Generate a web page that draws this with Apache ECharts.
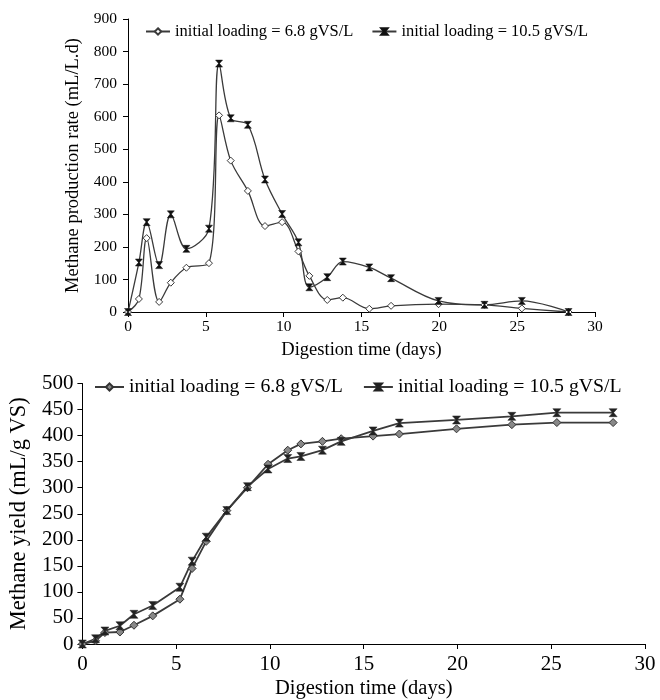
<!DOCTYPE html>
<html><head><meta charset="utf-8">
<script src="https://cdn.jsdelivr.net/npm/echarts@6/dist/echarts.min.js"></script>
<style>html,body{margin:0;padding:0;background:#fff}#c{width:660px;height:700px}</style>
</head><body><div id="c"></div>
<script>
var days = [0,0.7,1.2,2,2.75,3.75,5.2,5.85,6.6,7.7,8.8,9.9,10.95,11.65,12.8,13.8,15.5,16.9,19.95,22.9,25.3,28.3];
var rateLow = [0,40,227,31,90,136,150,604,465,372,264,276,186,111,37,44,10,19,24,22,11,0];
var rateHigh = [0,152,276,144,300,194,256,763,595,575,407,301,214,76,107,155,137,104,34,22,34,0];
var yieldLow = [0,6,22,23,36,54,86,145,197,256,300,345,372,384,389,394,399,403,413,421,425,425];
var yieldHigh = [0,10,25,35,57,74,109,159,205,256,302,336,356,360,372,389,409,424,430,437,444,444];
var xTicks = [0,5,10,15,20,25,30];
var nameLow = 'initial loading = 6.8 gVS/L';
var nameHigh = 'initial loading = 10.5 gVS/L';

function pairs(xs, ys){ return xs.map(function(x,i){ return [x, ys[i]]; }); }
var font = 'Liberation Serif';
var lineCol = '#3a3a3a';
var hourglass = 'path://M0,0L10,0L5.6,5L10,10L0,10L4.4,5Z';

function xAxis(gi, fs, nfs, gap, margin){
  return {type:'value', gridIndex:gi, min:xTicks[0], max:xTicks[xTicks.length-1], interval:xTicks[1]-xTicks[0],
    name:'Digestion time (days)', nameLocation:'middle', nameGap:gap,
    nameTextStyle:{fontFamily:font, fontSize:nfs, color:'#000'},
    axisLine:{lineStyle:{color:'#000', width:1}}, axisTick:{length:5, lineStyle:{color:'#000'}},
    axisLabel:{fontFamily:font, fontSize:fs, color:'#000', margin:margin},
    splitLine:{show:false}};
}
function yAxis(gi, max, iv, name, fs, nfs, gap, margin){
  return {type:'value', gridIndex:gi, min:0, max:max, interval:iv,
    name:name, nameLocation:'middle', nameGap:gap,
    nameTextStyle:{fontFamily:font, fontSize:nfs, color:'#000'},
    axisLine:{show:true, lineStyle:{color:'#000', width:1}}, axisTick:{show:true, length:5, lineStyle:{color:'#000'}},
    axisLabel:{fontFamily:font, fontSize:fs, color:'#000', margin:margin},
    splitLine:{show:false}};
}

var chart = echarts.init(document.getElementById('c'));
chart.setOption({
  animation:false,
  backgroundColor:'#fff',
  grid:[{left:128, top:19, width:467, height:293},
        {left:82, top:383.5, width:563, height:265}],
  legend:[
    {left:140, top:18, itemWidth:24, itemHeight:8, itemGap:18,
     textStyle:{fontFamily:font, fontSize:16.5, color:'#000'},
     data:['a1','a2'], formatter:function(n){return n==='a1'?nameLow:nameHigh;}},
    {left:89, top:372, itemWidth:29, itemHeight:9, itemGap:20,
     textStyle:{fontFamily:font, fontSize:19.8, color:'#000'},
     data:['b1','b2'], formatter:function(n){return n==='b1'?nameLow:nameHigh;}}
  ],
  xAxis:[xAxis(0,15.5,18.5,29,7), xAxis(1,21,20.5,34,10)],
  yAxis:[yAxis(0,900,100,'Methane production rate (mL/L.d)',15.5,18.5,39,11),
         yAxis(1,500,50,'Methane yield (mL/g VS)',21,22.5,49,9)],
  series:[
    {name:'a1', type:'line', xAxisIndex:0, yAxisIndex:0, data:pairs(days,rateLow), smooth:0.35,
     symbol:'diamond', symbolSize:7, lineStyle:{color:lineCol, width:1.3},
     itemStyle:{color:'#fff', borderColor:lineCol, borderWidth:1}},
    {name:'a2', type:'line', xAxisIndex:0, yAxisIndex:0, data:pairs(days,rateHigh), smooth:0.35,
     symbol:hourglass, symbolSize:7, lineStyle:{color:lineCol, width:1.3},
     itemStyle:{color:'#111', borderColor:'#111', borderWidth:0.5}},
    {name:'b1', type:'line', xAxisIndex:1, yAxisIndex:1, data:pairs(days,yieldLow),
     symbol:'diamond', symbolSize:8, lineStyle:{color:lineCol, width:1.8},
     itemStyle:{color:'#888', borderColor:'#333', borderWidth:1}},
    {name:'b2', type:'line', xAxisIndex:1, yAxisIndex:1, data:pairs(days,yieldHigh),
     symbol:hourglass, symbolSize:8, lineStyle:{color:lineCol, width:1.8},
     itemStyle:{color:'#222', borderColor:'#222', borderWidth:0.5}}
  ]
});
</script></body></html>
